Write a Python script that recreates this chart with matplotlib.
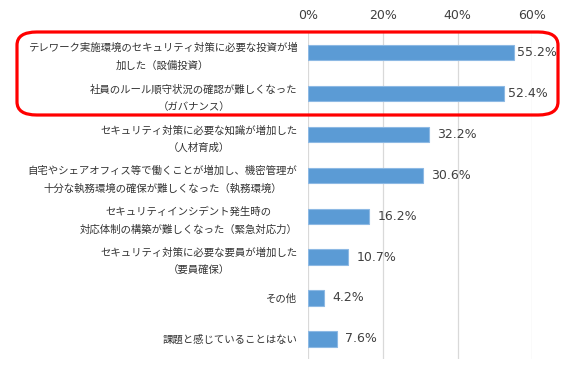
import matplotlib
matplotlib.use("Agg")
import matplotlib.pyplot as plt
from matplotlib.patches import FancyBboxPatch

plt.rcParams['font.family'] = ['Noto Sans CJK JP', 'DejaVu Sans']

# data
labels = [
    "テレワーク実施環境のセキュリティ対策に必要な投資が増\n加した（設備投資）",
    "社員のルール順守状況の確認が難しくなった\n（ガバナンス）",
    "セキュリティ対策に必要な知識が増加した\n（人材育成）",
    "自宅やシェアオフィス等で働くことが増加し、機密管理が\n十分な執務環境の確保が難しくなった（執務環境）",
    "セキュリティインシデント発生時の\n対応体制の構築が難しくなった（緊急対応力）",
    "セキュリティ対策に必要な要員が増加した\n（要員確保）",
    "その他",
    "課題と感じていることはない",
]
values = [55.2, 52.4, 32.2, 30.6, 16.2, 10.7, 4.2, 7.6]
xticks = [0, 20, 40, 60]
label_pads = [2, 3, 6, 6, 6, 6, 6, 6]

fig = plt.figure(figsize=(5.65, 3.74), dpi=100)
ax = fig.add_axes([0.546, 0.039, 0.396, 0.876])

y = list(range(len(values)))
ax.barh(y, values, height=0.37, color='#5B9BD5', edgecolor='#8DB9E4', linewidth=0.8, zorder=3)
ax.set_ylim(len(values) - 0.5, -0.5)
ax.set_xlim(0, 60)

for yi, v, pad in zip(y, values, label_pads):
    ax.annotate(f"{v:.1f}%", (v, yi), xytext=(pad, 0), textcoords='offset points',
                ha='left', va='center', fontsize=9, color='#404040',
                family='DejaVu Sans')

ax.xaxis.tick_top()
ax.set_xticks(xticks)
ax.set_xticklabels([f"{t}%" for t in xticks], family='DejaVu Sans', fontsize=9, color='#404040')
ax.tick_params(axis='x', length=0, pad=7)
ax.grid(axis='x', color='#D9D9D9', linewidth=0.9, zorder=0)

ax.set_yticks(y)
ax.set_yticklabels(labels, fontsize=7.5, color='#333333')
ax.tick_params(axis='y', length=0, pad=8)
for t in ax.get_yticklabels():
    t.set_multialignment('center')
    t.set_linespacing(1.9)

for s in ax.spines.values():
    s.set_visible(False)

# red highlight box around first two items
box = FancyBboxPatch((17 / 565, 1 - 115 / 374), (558 - 17) / 565, (115 - 32) / 374,
                     boxstyle="round,pad=0,rounding_size=0.035", transform=fig.transFigure,
                     fill=False, edgecolor='#FF0000', linewidth=2.3)
fig.patches.append(box)

fig.savefig("out.png", dpi=100)
